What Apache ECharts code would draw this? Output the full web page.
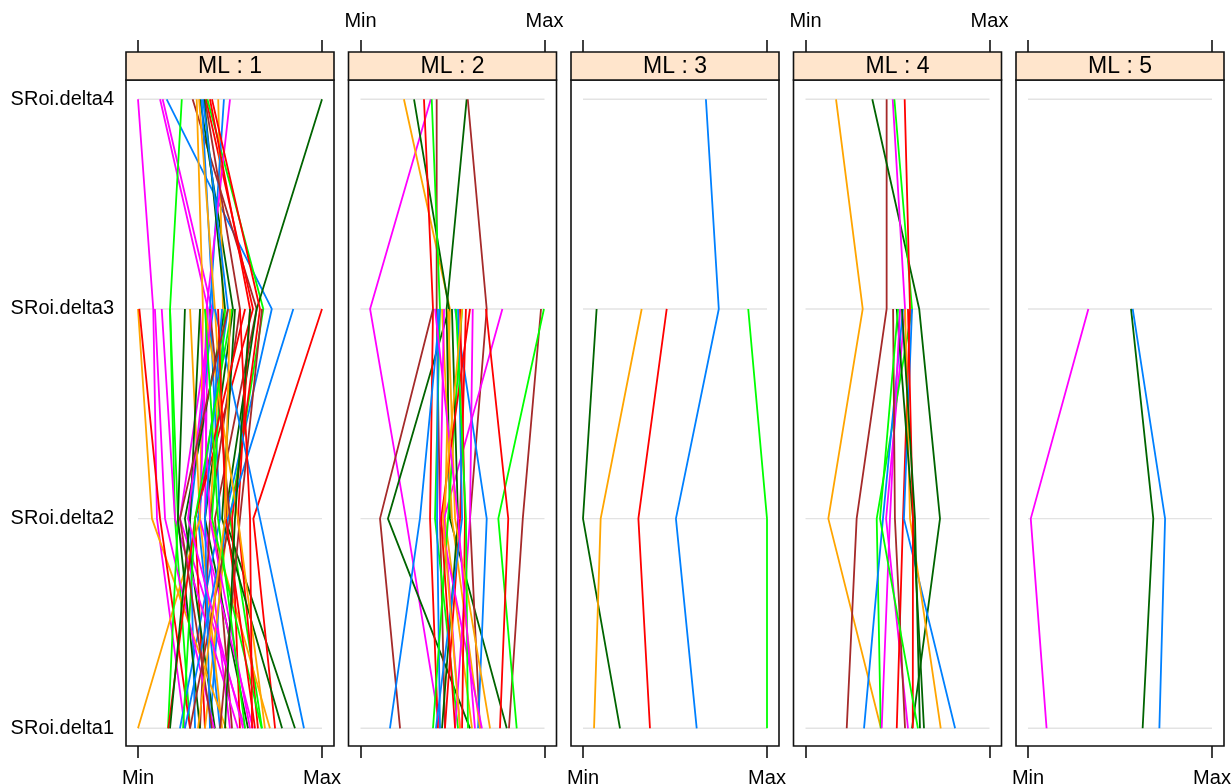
<!DOCTYPE html>
<html>
<head>
<meta charset="utf-8">
<script src="https://cdn.jsdelivr.net/npm/echarts@6/dist/echarts.min.js"></script>
<style>html,body{margin:0;padding:0;background:#fff;}#c{width:1231px;height:784px;}</style>
</head>
<body>
<div id="c"></div>
<script>
// Parallel coordinates, conditioned on ML; values scaled 0 (Min) .. 100 (Max)
const categories = ['SRoi.delta1', 'SRoi.delta2', 'SRoi.delta3', 'SRoi.delta4'];
const panelNames = ['ML : 1', 'ML : 2', 'ML : 3', 'ML : 4', 'ML : 5'];
const tickValues = [0, 100];
const tickLabels = ['Min', 'Max'];
// group codes -> lattice superpose colours
const groupColors = { b: '#0080ff', m: '#ff00ff', g: '#006400', r: '#ff0000', o: '#ffa500', l: '#00ff00', n: '#a52a2a' };

// each row: [group, delta1, delta2, delta3, delta4] (null = missing)
const ml1 = [
  ['m', 25.5, 10.3, 8.3, 0.0], ['m', 50.0, 36.4, 38.0, 12.0], ['m', 58.2, 22.8, 40.1, 13.4],
  ['b', 39.1, 47.3, 72.7, 15.6], ['l', 28.3, 20.1, 17.4, 23.8], ['n', 51.1, 41.8, 64.5, 29.7],
  ['o', 45.7, 33.7, 35.3, 31.9], ['g', 59.8, 36.4, 51.6, 33.7], ['b', 31.0, 28.3, 40.8, 34.6],
  ['r', 36.4, 31.0, 62.5, 37.0], ['l', 67.4, 50.0, 68.1, 37.7], ['o', 71.7, 39.1, 46.2, 43.6],
  ['b', 22.8, 44.6, 39.1, 46.7], ['m', 62.5, 33.7, 37.3, 50.0], ['g', 85.3, 47.3, 64.5, 100],
  ['r', 55.4, 51.1, 66.3, 40.2], ['n', 33.7, 39.1, 55.4, 36.4], ['r', 65.2, 54.3, 60.9, 39.1],
  ['g', 41.8, 25.5, 47.3, 35.9], ['o', 36.4, 48.9, 41.8, 33.2], ['b', 44.6, 32.6, 48.9, 35.3],
  ['o', 47.8, 7.6, 0.0, null], ['r', 28.3, 12.0, 0.7, null], ['o', 0.0, 33.7, 28.3, null],
  ['m', 41.3, 14.7, 9.2, null], ['m', 54.3, 20.1, 12.9, null], ['l', 16.3, 21.7, 17.4, null],
  ['g', 33.7, 21.7, 25.5, null], ['r', 74.5, 62.7, 100, null], ['b', 25.5, 48.9, 84.4, null],
  ['b', 90.2, 66.3, 41.8, null], ['g', 78.3, 45.7, 52.7, null], ['l', 67.2, 40.2, 47.3, null],
  ['n', 44.6, 55.4, 67.4, null], ['r', 16.5, 31.0, 58.2, null], ['m', 60.9, 39.1, 33.7, null],
  ['g', 17.4, 28.3, 33.7, null], ['n', 28.3, 50.0, 39.1, null], ['o', 69.0, 54.3, 36.4, null],
  ['b', 39.1, 36.4, 45.7, null], ['l', 24.5, 31.0, 51.1, null], ['r', 63.6, 47.8, 43.5, null],
  ['m', 57.1, 27.2, 40.2, null], ['g', 47.3, 52.7, 60.9, null], ['n', 40.2, 22.8, 48.9, null],
  ['r', 62.0, 60.9, 55.4, null], ['l', 58.2, 43.5, 36.4, null], ['o', 32.6, 47.3, 50.0, null]
];
const ml2 = [
  ['m', 43.2, 24.7, 5.2, 38.2], ['o', 60.6, 45.9, 48.6, 23.6], ['g', 59.5, 14.9, 48.1, 29.1],
  ['r', 42.1, 37.8, 39.4, 34.5], ['n', 45.9, 43.2, 41.4, 41.4], ['l', 53.0, 40.5, 43.2, 38.7],
  ['g', 79.5, 48.6, 46.8, 57.7], ['n', 64.9, 59.5, 68.6, 58.3], ['n', 21.5, 10.6, 39.4, null],
  ['n', 80.7, 88.2, 98.1, null], ['l', 84.9, 74.9, 99.7, null], ['m', 54.1, 45.4, 77.1, null],
  ['r', 75.8, 80.3, 68.2, null], ['b', 63.9, 68.6, 51.4, null], ['b', 16.0, 32.3, 43.2, null],
  ['m', 51.4, 59.5, 61.0, null], ['r', 45.9, 54.1, 57.3, null], ['b', 43.2, 41.6, 42.1, null],
  ['o', 64.9, 49.7, 44.3, null], ['l', 39.4, 47.6, 55.2, null], ['g', 44.3, 53.0, 49.7, null],
  ['m', 66.0, 43.2, 45.4, null], ['r', 55.2, 56.8, 54.1, null], ['o', 70.4, 51.4, 47.6, null],
  ['b', 41.0, 55.2, 53.0, null], ['r', 51.4, 43.8, 59.5, null], ['l', 58.4, 57.3, 51.9, null],
  ['m', 62.2, 53.0, 40.5, null], ['o', 54.1, 44.8, 55.2, null]
];
const ml3 = [
  ['b', 61.8, 50.5, 73.8, 66.8], ['l', 100, 100, 89.8, null], ['g', 20.1, 0.0, 7.4, null],
  ['o', 6.0, 9.6, 31.9, null], ['r', 36.4, 30.1, 45.5, null]
];
const ml4 = [
  ['o', 41.0, 12.4, 31.1, 16.6], ['n', 22.4, 27.8, 44.1, 44.1], ['g', 57.9, 73.1, 61.8, 36.3],
  ['m', 55.7, 43.8, 54.1, 47.4], ['l', 40.9, 38.7, 57.9, 48.3], ['r', 49.6, 53.0, 56.8, 53.9],
  ['b', 31.8, 42.1, 53.0, null], ['b', 81.3, 53.5, 57.9, null], ['o', 73.5, 56.8, 54.1, null],
  ['g', 64.4, 58.4, 49.6, null], ['r', 58.3, 58.4, 55.7, null], ['m', 41.4, 45.9, 51.4, null],
  ['n', 54.1, 48.6, 47.6, null], ['l', 61.1, 40.5, 50.3, null], ['g', 62.2, 59.5, 52.4, null]
];
const ml5 = [
  ['m', 10.1, 1.5, 32.8, null], ['g', 62.3, 68.1, 56.0, null], ['b', 71.4, 74.5, 56.9, null]
];
const panelData = [ml1, ml2, ml3, ml4, ml5];

// layout
const panelLeft0 = 126, panelPitch = 222.5, panelW = 208, panelTop = 80, panelH = 666, stripH = 28;
const padFrac = 12 / 184 * 100;
const yMin = 0.9156, yMax = 4.092;
const FONT = 'Liberation Sans, Arial, Helvetica, sans-serif';

const grids = [], xAxes = [], yAxes = [], series = [], graphics = [];
panelNames.forEach((name, i) => {
  const left = panelLeft0 + i * panelPitch;
  grids.push({ left: left, top: panelTop, width: panelW, height: panelH, show: true,
    outerBoundsMode: 'none',
    borderColor: '#111', borderWidth: 1.6, backgroundColor: 'transparent', containLabel: false });
  const fmt = v => (v === 0 ? tickLabels[0] : tickLabels[1]);
  // bottom axis
  xAxes.push({ type: 'value', gridIndex: i, position: 'bottom', min: -padFrac, max: 100 + padFrac,
    axisLine: { show: false }, splitLine: { show: false },
    axisTick: { show: true, inside: false, length: 12, customValues: tickValues, lineStyle: { color: '#111', width: 1.6 } },
    axisLabel: { show: i % 2 === 0, customValues: tickValues, formatter: fmt, margin: 22,
      color: '#000', fontFamily: FONT, fontSize: 20 } });
  // top axis above strip
  xAxes.push({ type: 'value', gridIndex: i, position: 'top', offset: stripH, min: -padFrac, max: 100 + padFrac,
    axisLine: { show: false }, splitLine: { show: false },
    axisTick: { show: true, inside: false, length: 12, customValues: tickValues, lineStyle: { color: '#111', width: 1.6 } },
    axisLabel: { show: i % 2 === 1, customValues: tickValues, formatter: fmt, margin: 21,
      color: '#000', fontFamily: FONT, fontSize: 20 } });
  yAxes.push({ type: 'value', gridIndex: i, min: yMin, max: yMax,
    axisLine: { show: false }, splitLine: { show: false }, axisTick: { show: false },
    axisLabel: { show: i === 0, customValues: [1, 2, 3, 4], formatter: v => categories[Math.round(v) - 1],
      margin: 12, color: '#000', fontFamily: FONT, fontSize: 20 } });

  // reference lines for each variable, from Min to Max
  categories.forEach((c, k) => {
    series.push({ type: 'line', xAxisIndex: i * 2, yAxisIndex: i, silent: true, symbol: 'none',
      lineStyle: { color: '#e3e3e3', width: 1.4 }, data: [[tickValues[0], k + 1], [tickValues[1], k + 1]], z: 1 });
  });
  panelData[i].forEach(row => {
    const pts = [];
    for (let k = 0; k < categories.length; k++) {
      const v = row[k + 1];
      if (v !== null && v !== undefined) pts.push([v, k + 1]);
    }
    series.push({ type: 'line', xAxisIndex: i * 2, yAxisIndex: i, symbol: 'none', silent: true,
      lineStyle: { color: groupColors[row[0]], width: 1.8 }, data: pts, z: 2 });
  });

  // strip
  graphics.push({ type: 'rect', shape: { x: left, y: panelTop - stripH, width: panelW, height: stripH },
    style: { fill: '#ffe5cc', stroke: '#111', lineWidth: 1.6 }, z: 10 });
  graphics.push({ type: 'text', x: left + panelW / 2, y: panelTop - stripH / 2 + 1,
    style: { text: name, fill: '#000', font: '23px ' + FONT, textAlign: 'center', textVerticalAlign: 'middle' }, z: 11 });
});

const chart = echarts.init(document.getElementById('c'), null, { renderer: 'canvas' });
chart.setOption({
  animation: false,
  backgroundColor: '#fff',
  grid: grids, xAxis: xAxes, yAxis: yAxes, series: series, graphic: graphics
});
</script>
</body>
</html>
